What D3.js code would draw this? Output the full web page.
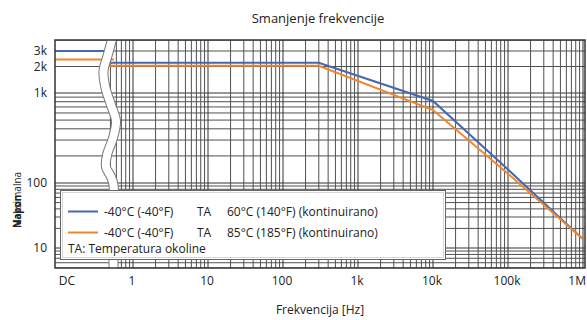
<!DOCTYPE html>
<html><head><meta charset="utf-8">
<script src="https://cdn.jsdelivr.net/npm/d3@7"></script>
<style>html,body{margin:0;padding:0;background:#fff;}svg{display:block;font-family:"Open Sans","Noto Sans",sans-serif;}</style>
</head><body><svg id="c" width="587" height="320"></svg>
<script>
// ---- data ----
const xTickValues = [1, 10, 100, 1e3, 1e4, 1e5, 1e6];
const xTickLabels = ["1", "10", "100", "1k", "10k", "100k", "1M"];
const dcLabel = "DC";
const yTickValues = [10, 100, 1000, 2000, 3000];
const yTickLabels = ["10", "100", "1k", "2k", "3k"];
const seriesNames = ["60°C (140°F) (kontinuirano)", "85°C (185°F) (kontinuirano)"];
const seriesColors = ["#4667b0", "#f0862a"];
const dcValues = [3000, 2400];
const freq = [0.4, 300, 10000, 100000, 1000000];
const blueValues = [2210, 2210, 815, 141, 13.7];
const orangeValues = [2040, 2040, 647, 127, 13.7];
const title = "Smanjenje frekvencije";
const xTitle = "Frekvencija [Hz]";
const yTitle = ["Maksimalna", "Napon"];

// ---- layout ----
const svg = d3.select("#c");
const L = 55, R = 585, T = 40, B = 268;
const breakX = 110;
const x = d3.scaleLog().domain([1, 1e6]).range([133, 583]);
const y = d3.scaleLog().domain([5, 10, 100, 1000, 4000]).range([B, 248, 183, 93, T]);

svg.append("defs").append("clipPath").attr("id", "pc")
  .append("rect").attr("x", L).attr("y", T).attr("width", R - L).attr("height", B - T);
const g = svg.append("g").attr("clip-path", "url(#pc)");

// grid values
const hv = [];
[1, 10, 100, 1000].forEach(d => { for (let k = 1; k <= 9; k++) { const v = k * d; if (v >= 5 && v <= 4000) hv.push({v, major: k === 1}); } });
const vv = [];
[0.1, 1, 10, 100, 1e3, 1e4, 1e5].forEach(d => { for (let k = 1; k <= 9; k++) { const v = k * d; if (x(v) > breakX - 6) vv.push({v, major: k === 1}); } });
vv.push({v: 1e6, major: true});

g.selectAll("line.h").data(hv).join("line")
  .attr("x1", L).attr("x2", R).attr("y1", d => y(d.v)).attr("y2", d => y(d.v))
  .attr("stroke", d => d.major ? "#333" : "#505050").attr("stroke-width", 1);
g.selectAll("line.v").data(vv).join("line")
  .attr("y1", T).attr("y2", B).attr("x1", d => x(d.v)).attr("x2", d => x(d.v))
  .attr("stroke", d => d.major ? "#333" : "#505050").attr("stroke-width", 1);

// data lines
const line = d3.line().x(d => x(d[0])).y(d => y(d[1]));
[blueValues, orangeValues].forEach((vals, i) => {
  g.append("path").attr("d", line(freq.map((f, j) => [f, vals[j]])))
    .attr("fill", "none").attr("stroke", seriesColors[i]).attr("stroke-width", 2);
  g.append("line").attr("x1", L).attr("x2", breakX + 4)
    .attr("y1", y(dcValues[i])).attr("y2", y(dcValues[i]))
    .attr("stroke", seriesColors[i]).attr("stroke-width", 2);
});

// axis break (wavy band)
const H = B - T;
const wave = [[2.5,-0.01],[-2.5,0.07],[-6.5,0.136],[-4.5,0.21],[1,0.285],[6,0.355],[3,0.43],[-3,0.505],[-4,0.557],[1,0.6],[3.5,0.635],[3.5,0.75],[3.5,1.02]]
  .map(p => [breakX + p[0], T + p[1] * H]);
const wl = d3.line().curve(d3.curveCatmullRom);
g.append("path").attr("d", wl(wave)).attr("fill", "none").attr("stroke", "#777").attr("stroke-width", 10);
g.append("path").attr("d", wl(wave)).attr("fill", "none").attr("stroke", "#fff").attr("stroke-width", 8);

// legend
const lg = svg.append("g");
lg.append("rect").attr("x", 60.5).attr("y", 190.5).attr("width", 385).attr("height", 69)
  .attr("fill", "#fff").attr("stroke", "#666").attr("stroke-width", 1);
lg.append("rect").attr("x", 62.5).attr("y", 192.5).attr("width", 381).attr("height", 65)
  .attr("fill", "none").attr("stroke", "#ccc").attr("stroke-width", 0.8);
seriesNames.forEach((n, i) => {
  const yy = 211.5 + i * 21;
  lg.append("line").attr("x1", 68).attr("x2", 98).attr("y1", yy).attr("y2", yy)
    .attr("stroke", seriesColors[i]).attr("stroke-width", 2);
  lg.append("text").attr("x", 104).attr("y", yy + 4.3).attr("font-size", 12).attr("fill", "#222").text("-40°C (-40°F)");
  lg.append("text").attr("x", 197).attr("y", yy + 4.3).attr("font-size", 12).attr("fill", "#222").text("TA");
  lg.append("text").attr("x", 227).attr("y", yy + 4.3).attr("font-size", 12).attr("fill", "#222").text(n);
});
lg.append("text").attr("x", 68).attr("y", 253).attr("font-size", 12).attr("fill", "#222").text("TA: Temperatura okoline");

// frame
svg.append("rect").attr("x", L).attr("y", T).attr("width", R - L).attr("height", B - T)
  .attr("fill", "none").attr("stroke", "#333").attr("stroke-width", 1.5);

// axes labels
const last = xTickValues.length - 1;
svg.selectAll("text.xt").data(xTickValues).join("text")
  .attr("x", (d, i) => i === last ? 586 : x(d) - 1).attr("y", 285)
  .attr("text-anchor", (d, i) => i === last ? "end" : "middle").attr("font-size", 12).attr("fill", "#222")
  .text((d, i) => xTickLabels[i]);
svg.append("text").attr("x", 67).attr("y", 285).attr("text-anchor", "middle").attr("font-size", 12).attr("fill", "#222").text(dcLabel);
svg.selectAll("text.yt").data(yTickValues).join("text")
  .attr("x", 47).attr("y", d => y(d) + 4.3).attr("text-anchor", "end").attr("font-size", 12).attr("fill", "#222")
  .text((d, i) => yTickLabels[i]);

svg.append("text").attr("x", 318).attr("y", 23).attr("text-anchor", "middle").attr("font-size", 13).attr("fill", "#222").text(title);
svg.append("text").attr("x", 320).attr("y", 314).attr("text-anchor", "middle").attr("font-size", 12).attr("fill", "#222").text(xTitle);
svg.append("text").attr("transform", "translate(21,228) rotate(-90)").attr("font-size", 10).attr("fill", "#222").text(yTitle[0]);
svg.append("text").attr("transform", "translate(21,228) rotate(-90)").attr("font-size", 10).attr("font-weight", "bold").attr("fill", "#222").text(yTitle[1]);
</script></body></html>
